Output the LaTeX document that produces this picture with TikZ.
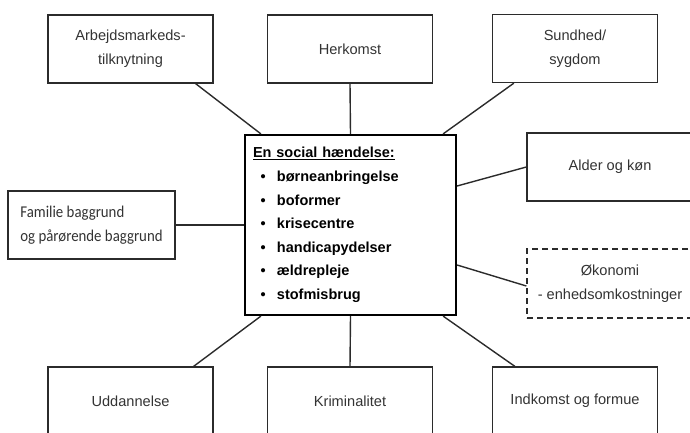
\documentclass[tikz,border=0pt]{standalone}
\usepackage{fontspec}
\setmainfont{Liberation Sans}
\newfontfamily\famfont[FakeStretch=0.9]{Carlito}
\usepackage{xcolor}
\usepackage{tikz}
\definecolor{boxline}{HTML}{2B2B2B}
\definecolor{boxtext}{HTML}{333333}
\tikzset{
  factor/.style={draw=boxline, line width=1.3pt, minimum width=165pt, minimum height=68pt,
        inner sep=0pt, align=center, text=boxtext,
        font=\fontsize{14.6}{24}\selectfont},
  event/.style={draw=black, line width=2.2pt, minimum width=211pt, minimum height=180pt,
        inner xsep=8pt, inner ysep=0pt, text width=195pt, align=left,
        font=\bfseries\fontsize{14.5}{23.6}\selectfont},
  link/.style={draw=boxline, line width=1.4pt}
}
\newcommand{\evitem}[1]{\\\hspace*{7.5pt}\makebox[16.5pt][l]{\textbullet}#1}

\begin{document}
\begin{tikzpicture}[x=1pt, y=-1pt]
  \clip (0,0) rectangle (690,433);
  \node[event] (hand) at (350.5,225) {%
    \underline{En social hændelse:}%
    \evitem{børneanbringelse}\evitem{boformer}\evitem{krisecentre}%
    \evitem{handicapydelser}\evitem{ældrepleje}\evitem{stofmisbrug}};

  \node[factor] (arb) at (130.5,49) {Arbejdsmarkeds-\\tilknytning};
  \node[factor] (herk) at (350,49) {Herkomst};
  \node[factor] (sund) at (575,48.5) {Sundhed/\\sygdom};
  \node[factor, minimum width=167pt, align=left,
        font=\famfont\fontsize{16.5}{24}\selectfont] (fam) at (91.5,225)
        {Familie baggrund\\og pårørende baggrund};
  \node[factor, minimum width=166pt] (alder) at (610,167) {Alder og køn};
  \node[factor, dash pattern=on 6pt off 4pt, minimum width=166pt, minimum height=69pt]
        (okon) at (610,283.5) {Økonomi\\- enhedsomkostninger};
  \node[factor] (udd) at (130.5,401) {Uddannelse};
  \node[factor] (krim) at (350,401) {Kriminalitet};
  \node[factor] (ind) at (575,401) {Indkomst og formue};

  \draw[link] ([xshift=-18pt]arb.south east) -- ([xshift=17pt]hand.north west);
  \draw[link] (herk.south) -- (hand.north);
  \draw[link] ([xshift=22pt]sund.south west) -- ([xshift=-14pt]hand.north east);
  \draw[link] (fam.east) -- (hand.west);
  \draw[link] ([yshift=39pt]hand.east) -- (alder.west);
  \draw[link] ([yshift=-40pt]hand.east) -- ([yshift=-2.5pt]okon.west);
  \draw[link] ([xshift=17pt]hand.south west) -- ([xshift=-20pt]udd.north east);
  \draw[link] (hand.south) -- (krim.north);
  \draw[link] ([xshift=-14pt]hand.south east) -- ([xshift=23pt]ind.north west);
\end{tikzpicture}
\end{document}
